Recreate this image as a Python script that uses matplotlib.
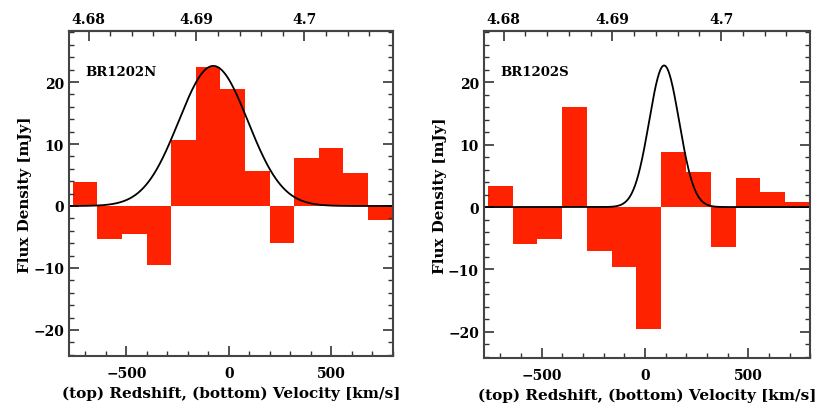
import numpy as np
import matplotlib
matplotlib.use("Agg")
import matplotlib.pyplot as plt
from matplotlib.ticker import MultipleLocator, FixedLocator, FormatStrFormatter

# ---- data ----
bin_centers = [-701, -581, -461, -341, -221, -101, 19, 139, 259, 379, 499, 619, 739]
bin_width = 120
flux_N = [3.8, -5.3, -4.5, -9.5, 10.7, 22.4, 18.9, 5.7, -6.0, 7.7, 9.3, 5.3, -2.3]
flux_S = [3.4, -5.9, -5.2, 16.1, -7.0, -9.6, -19.5, 8.75, 5.6, -6.45, 4.6, 2.35, 0.8]
fit_N = dict(amp=22.6, center=-76, fwhm=397)
fit_S = dict(amp=22.7, center=93, fwhm=171)
names = ["BR1202N", "BR1202S"]
z_major = [4.68, 4.69, 4.70]
z_minor = [4.678, 4.682, 4.684, 4.686, 4.688, 4.692, 4.694, 4.696, 4.698, 4.702, 4.704, 4.706]
z0 = 4.693
c_kms = 299792.458

plt.rcParams['font.family'] = ['DejaVu Serif']
plt.rcParams['font.weight'] = 'bold'
plt.rcParams['axes.labelweight'] = 'bold'

fig = plt.figure(figsize=(8.2, 4.06), dpi=100)
positions = [[0.0841, 0.1207, 0.395, 0.800], [0.590, 0.1158, 0.398, 0.805]]
red = '#ff2200'

def v2z(v):
    return z0 + np.asarray(v) * (1 + z0) / c_kms

def z2v(z):
    return (np.asarray(z) - z0) * c_kms / (1 + z0)

for pos, flux, fit, name in zip(positions, [flux_N, flux_S], [fit_N, fit_S], names):
    ax = fig.add_axes(pos)
    ax.bar(bin_centers, flux, width=bin_width, color=red, linewidth=0, zorder=1)
    vv = np.linspace(-800, 820, 800)
    sig = fit['fwhm'] / 2.3548
    ax.plot(vv, fit['amp'] * np.exp(-0.5 * ((vv - fit['center']) / sig) ** 2),
            color='black', lw=1.3, zorder=2)
    ax.set_xlim(-780, 800)
    ax.set_ylim(-24.2, 28.2)
    ax.xaxis.set_major_locator(MultipleLocator(500))
    ax.xaxis.set_minor_locator(MultipleLocator(100))
    ax.yaxis.set_major_locator(MultipleLocator(10))
    ax.yaxis.set_minor_locator(MultipleLocator(2))
    ax.tick_params(which='both', direction='in', top=False, right=True,
                   labelsize=10, color='#333333')
    ax.tick_params(axis='x', which='major', pad=7)
    ax.tick_params(which='major', length=7, width=1.2)
    ax.tick_params(which='minor', length=3.5, width=1.0)
    for s in ax.spines.values():
        s.set_linewidth(1.5)
        s.set_color('#444444')
    ax.set_xlabel("(top) Redshift, (bottom) Velocity [km/s]", fontsize=11, labelpad=4)
    ax.set_ylabel("Flux Density [mJy]", fontsize=10.8, labelpad=1)
    ax.text(0.05, 0.877, name, transform=ax.transAxes, fontsize=9.5,
            va='center', ha='left')
    sec = ax.secondary_xaxis('top', functions=(v2z, z2v))
    sec.xaxis.set_major_locator(FixedLocator(z_major))
    sec.xaxis.set_minor_locator(FixedLocator(z_minor))
    sec.xaxis.set_major_formatter(FormatStrFormatter('%g'))
    sec.tick_params(which='both', direction='in', labelsize=10, color='#333333')
    sec.tick_params(which='major', length=7, width=1.2)
    sec.tick_params(which='minor', length=3.5, width=1.0)
    sec.spines['top'].set_linewidth(1.5)
    sec.spines['top'].set_color('#444444')

fig.savefig("out.png", dpi=100)
